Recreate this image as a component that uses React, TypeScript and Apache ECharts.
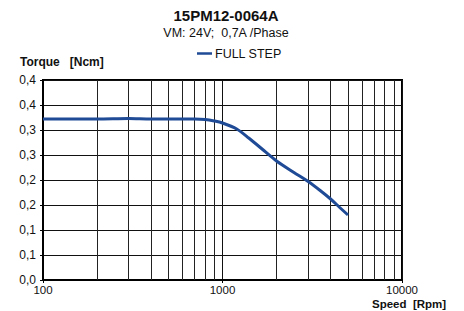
import React, { useEffect, useRef } from "react";
import * as echarts from "echarts";

const speeds = [100, 150, 200, 300, 400, 500, 600, 700, 800, 900, 1000, 1200, 1400, 1700, 2000, 2500, 3000, 3500, 4000, 4500, 5000];
const torque = [0.322, 0.322, 0.322, 0.323, 0.322, 0.322, 0.322, 0.322, 0.321, 0.318, 0.314, 0.302, 0.284, 0.259, 0.238, 0.215, 0.197, 0.179, 0.162, 0.145, 0.13];
const minorSpeeds = [200, 300, 400, 500, 600, 700, 800, 900, 2000, 3000, 4000, 5000, 6000, 7000, 8000, 9000];
const seriesName = "FULL STEP";
const titleText = "15PM12-0064A";
const subtitleText = "VM: 24V;  0,7A /Phase";
const yName = "Torque   [Ncm]";
const xName = "Speed  [Rpm]";

const FONT = "'Liberation Sans', Arial, sans-serif";

export default function App() {
  const ref = useRef<HTMLDivElement>(null);
  useEffect(() => {
    if (!ref.current) return;
    const chart = echarts.init(ref.current, null, { renderer: "svg" });
    chart.setOption({
      animation: false,
      backgroundColor: "#fff",
      textStyle: { fontFamily: FONT },
      legend: {
        data: [seriesName],
        top: 42,
        left: 192,
        icon: "rect",
        itemWidth: 15,
        itemHeight: 2.5,
        itemGap: 4,
        textStyle: { fontSize: 12.5, color: "#111", fontFamily: FONT, padding: [0, 0, 0, -2] },
      },
      grid: {
        left: 43,
        right: 62,
        top: 80,
        bottom: 31,
        show: true,
        borderColor: "#000",
        borderWidth: 2,
      },
      xAxis: {
        type: "log",
        logBase: 10,
        min: 100,
        max: 10000,
        axisLine: { show: true, lineStyle: { color: "#000", width: 2 } },
        axisTick: { show: true, length: 3, lineStyle: { color: "#000" } },
        axisLabel: {
          fontSize: 11.5,
          color: "#111",
          margin: 4,
          fontFamily: FONT,
          formatter: (v: number) => String(Math.round(v)),
        },
        splitLine: { show: true, lineStyle: { color: "#111", width: 1 } },
      },
      yAxis: {
        type: "value",
        min: 0,
        max: 0.4,
        interval: 0.05,
        axisLine: { show: true, lineStyle: { color: "#000", width: 2 } },
        axisTick: { show: true, length: 3, lineStyle: { color: "#000" } },
        axisLabel: {
          fontSize: 12,
          color: "#111",
          margin: 7,
          fontFamily: FONT,
          formatter: (v: number) => {
            const r = Math.round(Math.round(v * 100) / 10) / 10;
            return r.toFixed(1).replace(".", ",");
          },
        },
        splitLine: { show: true, lineStyle: { color: "#111", width: 1 } },
      },
      graphic: [
        {
          type: "text",
          x: 226,
          y: 15,
          style: { text: titleText, fontSize: 15, fontWeight: "bold", fill: "#111", fontFamily: FONT, align: "center", verticalAlign: "middle" },
        },
        {
          type: "text",
          x: 226,
          y: 33,
          style: { text: subtitleText, fontSize: 12.5, fill: "#111", fontFamily: FONT, align: "center", verticalAlign: "middle" },
        },
        {
          type: "text",
          x: 20,
          y: 62,
          style: { text: yName, fontSize: 12, fontWeight: "bold", fill: "#111", fontFamily: FONT, verticalAlign: "middle" },
        },
        {
          type: "text",
          x: 372,
          y: 303.5,
          style: { text: xName, fontSize: 11.5, fontWeight: "bold", fill: "#111", fontFamily: FONT, verticalAlign: "middle" },
        },
      ],
      series: [
        {
          name: seriesName,
          type: "line",
          data: speeds.map((s, i) => [s, torque[i]]),
          showSymbol: false,
          smooth: 0.3,
          lineStyle: { color: "#1f4a96", width: 3 },
          itemStyle: { color: "#1f4a96" },
          markLine: {
            silent: true,
            symbol: ["none", "none"],
            label: { show: false },
            lineStyle: { color: "#222", width: 1, type: "solid" },
            data: minorSpeeds.map((s) => ({ xAxis: s })),
          },
          z: 5,
        },
      ],
    });
    return () => chart.dispose();
  }, []);
  return <div ref={ref} style={{ position: "fixed", left: 0, top: 0, width: 464, height: 311 }} />;
}
